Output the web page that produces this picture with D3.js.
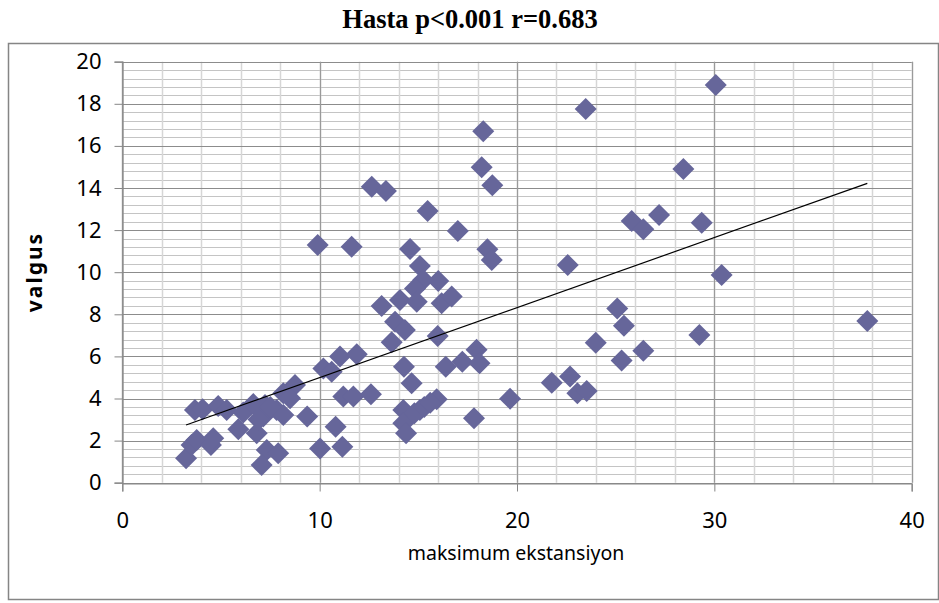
<!DOCTYPE html>
<html>
<head>
<meta charset="utf-8">
<script src="https://cdn.jsdelivr.net/npm/d3@7/dist/d3.min.js"></script>
<style>
  body { margin: 0; background: #fff; }
  .tick-label { font-family: "Noto Sans", sans-serif; font-size: 22px; fill: #000; }
</style>
</head>
<body>
<div id="chart"></div>
<script>
// values
var ekstansiyon = [3.23, 3.51, 3.77, 3.68, 4.07, 4.49, 4.61, 4.86, 5.29, 5.88, 6.13, 6.64, 6.81, 7.14, 7.32,
    7.06, 7.9, 7.23, 7.82, 8.16, 8.16, 8.75, 8.5, 9.37, 10.02, 10.19, 6.9, 7.5,
    10.61, 11.03, 11.88, 10.81, 11.15, 11.2, 11.71, 12.6, 12.64, 13.36, 9.9, 11.62, 14.58, 15.47, 17.0,
    15.08, 16.01, 15.25, 14.83, 14.07, 14.92, 16.18, 16.69, 13.14, 13.82, 14.32, 13.65, 15.98, 17.95,
    14.27, 14.66, 16.39, 17.23, 14.24, 15.08, 15.93, 14.24, 14.38, 17.82, 14.8, 15.3, 15.6,
    23.48, 18.29, 18.21, 18.75, 28.43, 25.81, 26.4, 27.2, 18.5, 18.72, 22.57, 25.08, 25.42, 23.99, 26.4,
    25.3, 18.1, 21.76, 22.69, 23.06, 23.53, 19.65,
    30.07, 29.36, 30.37, 29.24, 37.75];
var valgus = [1.16, 1.79, 2.03, 3.45, 3.49, 1.79, 2.11, 3.64, 3.45, 2.54, 3.33, 3.74, 2.35, 3.14, 1.55,
    0.84, 1.4, 3.69, 3.45, 3.22, 4.25, 4.64, 4.01, 3.14, 1.63, 5.43, 3.0, 3.6,
    5.27, 5.99, 6.1, 2.66, 1.71, 4.09, 4.09, 4.2, 14.06, 13.86, 11.29, 11.21, 11.1, 12.91, 11.96,
    10.29, 9.58, 9.63, 9.23, 8.68, 8.6, 8.52, 8.84, 8.39, 7.65, 7.25, 6.67, 6.97, 6.32,
    5.51, 4.72, 5.51, 5.75, 3.45, 3.45, 3.96, 2.82, 2.35, 3.06, 3.3, 3.6, 3.8,
    17.75, 16.7, 14.98, 14.13, 14.9, 12.43, 12.04, 12.72, 11.09, 10.58, 10.34, 8.28, 7.46, 6.65, 6.27,
    5.8, 5.68, 4.75, 5.04, 4.25, 4.36, 3.99,
    18.89, 12.35, 9.87, 7.02, 7.68];

var xTicks = [0, 10, 20, 30, 40];
var yTicks = [0, 2, 4, 6, 8, 10, 12, 14, 16, 18, 20];
var xMinor = d3.range(0, 41, 2);
var yMinor = d3.range(0, 20.01, 0.4);

// linear trend
var trendSlope = 0.3326;
var trendIntercept = 1.666;

var titleText = "Hasta p<0.001 r=0.683";
var xLabel = "maksimum ekstansiyon";
var yLabel = "valgus";

var W = 939, H = 603;
var plot = { left: 122.3, right: 911.7, top: 61.7, bottom: 482.7 };

var svg = d3.select("#chart").append("svg")
    .attr("width", W)
    .attr("height", H);

// outer frame
svg.append("rect")
    .attr("x", 8.5).attr("y", 43.5)
    .attr("width", 930).attr("height", 556)
    .attr("fill", "none")
    .attr("stroke", "#858585")
    .attr("stroke-width", 1.5);

svg.append("text")
    .attr("x", 470).attr("y", 28)
    .attr("text-anchor", "middle")
    .style("font-family", "'Liberation Serif', 'Times New Roman', serif")
    .style("font-weight", "bold")
    .style("font-size", "26.5px")
    .text(titleText);

var x = d3.scaleLinear().domain([0, 40]).range([plot.left, plot.right]);
var y = d3.scaleLinear().domain([0, 20]).range([plot.bottom, plot.top]);

var grid = svg.append("g");

// minor gridlines
grid.selectAll(".ym").data(yMinor).enter().append("line")
    .attr("x1", plot.left).attr("x2", plot.right)
    .attr("y1", function(d) { return Math.round(y(d)) + 0.5; })
    .attr("y2", function(d) { return Math.round(y(d)) + 0.5; })
    .attr("stroke", "#c4c4c4").attr("stroke-width", 1);

grid.selectAll(".xm").data(xMinor).enter().append("line")
    .attr("y1", plot.top).attr("y2", plot.bottom)
    .attr("x1", function(d) { return Math.round(x(d)) + 0.5; })
    .attr("x2", function(d) { return Math.round(x(d)) + 0.5; })
    .attr("stroke", "#d6d6d6").attr("stroke-width", 1.5);

// major gridlines
grid.selectAll(".yM").data(yTicks).enter().append("line")
    .attr("x1", plot.left).attr("x2", plot.right)
    .attr("y1", function(d) { return Math.round(y(d)) + 0.5; })
    .attr("y2", function(d) { return Math.round(y(d)) + 0.5; })
    .attr("stroke", "#8c8c8c").attr("stroke-width", 1);

grid.selectAll(".xM").data(xTicks).enter().append("line")
    .attr("y1", plot.top).attr("y2", plot.bottom)
    .attr("x1", function(d) { return Math.round(x(d)) + 0.5; })
    .attr("x2", function(d) { return Math.round(x(d)) + 0.5; })
    .attr("stroke", "#9a9a9a").attr("stroke-width", 1.2);

// axes
var yAxis = d3.axisLeft(y).tickValues(yTicks).tickSize(8).tickPadding(13);
var xAxis = d3.axisBottom(x).tickValues(xTicks).tickSize(8).tickPadding(21);

var gy = svg.append("g")
    .attr("transform", "translate(" + (Math.round(plot.left) + 0.5) + ",0)")
    .call(yAxis);
var gx = svg.append("g")
    .attr("transform", "translate(0," + (Math.round(plot.bottom) + 0.5) + ")")
    .call(xAxis);

[gx, gy].forEach(function(g) {
    g.select(".domain").attr("stroke", "#868686").attr("stroke-width", 1.2);
    g.selectAll(".tick line").attr("stroke", "#868686");
    g.selectAll(".tick text").attr("class", "tick-label").attr("fill", "#000");
});

// points
var data = ekstansiyon.map(function(d, i) { return { x: d, y: valgus[i] }; });
var r = 11;
svg.append("g").selectAll("path").data(data).enter().append("path")
    .attr("transform", function(d) { return "translate(" + x(d.x) + "," + y(d.y) + ")"; })
    .attr("d", "M0," + (-r) + "L" + r + ",0L0," + r + "L" + (-r) + ",0Z")
    .attr("fill", "#66669a");

// trend line
var xExt = d3.extent(ekstansiyon);
svg.append("line")
    .attr("x1", x(xExt[0])).attr("y1", y(trendIntercept + trendSlope * xExt[0]))
    .attr("x2", x(xExt[1])).attr("y2", y(trendIntercept + trendSlope * xExt[1]))
    .attr("stroke", "#000").attr("stroke-width", 1.2);

// axis titles
svg.append("text")
    .attr("x", 516).attr("y", 560)
    .attr("text-anchor", "middle")
    .style("font-family", "'Noto Sans', sans-serif")
    .style("font-size", "19.5px")
    .text(xLabel);

svg.append("text")
    .attr("transform", "translate(42,272) rotate(-90)")
    .attr("text-anchor", "middle")
    .style("font-family", "'Noto Sans', sans-serif")
    .style("font-weight", "bold")
    .style("font-size", "21px")
    .style("letter-spacing", "2px")
    .text(yLabel);
</script>
</body>
</html>
